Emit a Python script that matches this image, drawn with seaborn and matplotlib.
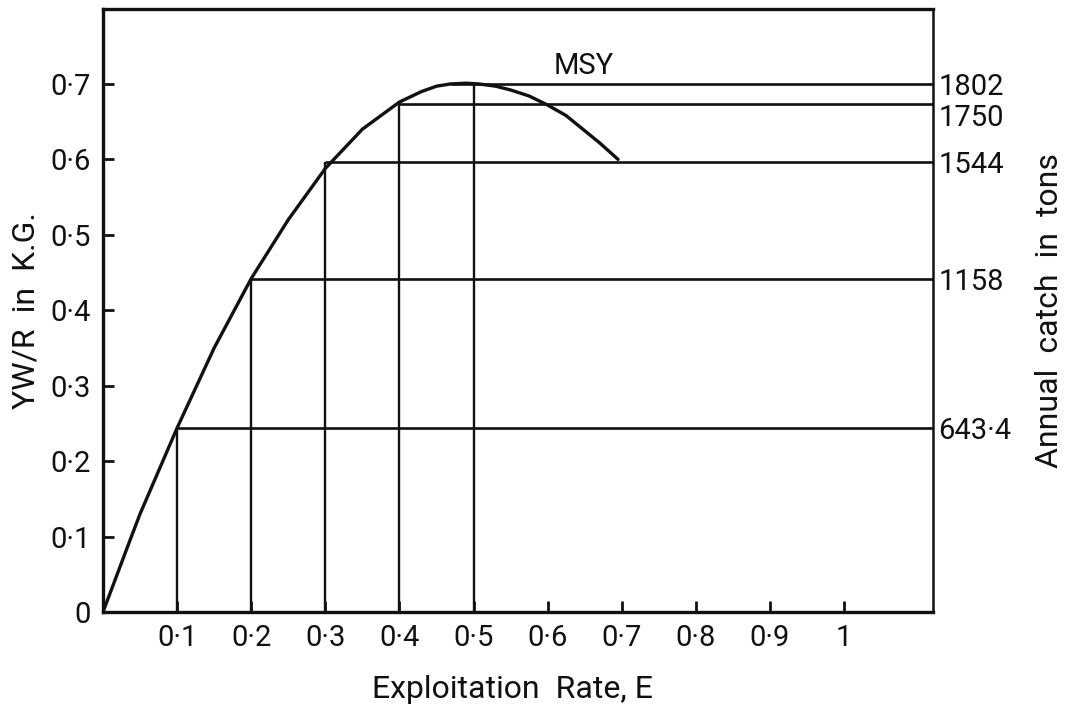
import matplotlib
matplotlib.use("Agg")
import matplotlib.pyplot as plt
import matplotlib.transforms as mtransforms
import seaborn as sns
import pandas as pd

# ---- data ----
exploitation_rate = [0.0, 0.036, 0.05, 0.1, 0.15, 0.2, 0.25, 0.3, 0.35, 0.4,
                     0.43, 0.45, 0.469, 0.49, 0.507, 0.53, 0.55, 0.575, 0.6,
                     0.625, 0.645, 0.67, 0.695]
yield_per_recruit = [0.0, 0.094, 0.13, 0.244, 0.35, 0.442, 0.52, 0.588, 0.64, 0.676,
                     0.690, 0.697, 0.70, 0.701, 0.70, 0.697, 0.692, 0.684, 0.672,
                     0.658, 0.642, 0.622, 0.60]

catch_E = [0.1, 0.2, 0.3, 0.4, 0.5]           # vertical reference lines
catch_Y = [0.244, 0.442, 0.596, 0.673, 0.70]  # corresponding YW/R levels
catch_line_start = [0.1, 0.2, 0.3, 0.4, 0.469]
catch_labels = ["643·4", "1158", "1544", "1750", "1802"]

x_ticks = [0.1, 0.2, 0.3, 0.4, 0.5, 0.6, 0.7, 0.8, 0.9, 1.0]
x_tick_labels = ["0·1", "0·2", "0·3", "0·4", "0·5", "0·6", "0·7", "0·8", "0·9", "1"]
y_ticks = [0.0, 0.1, 0.2, 0.3, 0.4, 0.5, 0.6, 0.7]
y_tick_labels = ["0", "0·1", "0·2", "0·3", "0·4", "0·5", "0·6", "0·7"]

sns.set_style("ticks")
plt.rcParams["font.family"] = ["Roboto", "DejaVu Sans"]
ink = "#111111"
fs_tick = 21
fs_lab = 23

fig = plt.figure(figsize=(10.69, 7.05), dpi=100)
ax = fig.add_axes([103 / 1069, (705 - 612) / 705, (933 - 103) / 1069, (612 - 8.5) / 705])

df = pd.DataFrame({"E": exploitation_rate, "Y": yield_per_recruit})
sns.lineplot(data=df, x="E", y="Y", ax=ax, color=ink, lw=2.4, sort=False)

x_max = 1.12
for e, y, s in zip(catch_E, catch_Y, catch_line_start):
    ax.plot([e, e], [0, y], color=ink, lw=1.7, solid_capstyle="butt")
    ax.plot([s, x_max], [y, y], color=ink, lw=1.9, solid_capstyle="butt")

ax.set_xlim(0, x_max)
ax.set_ylim(0, 0.8)
ax.set_xticks(x_ticks)
ax.set_xticklabels(x_tick_labels)
ax.set_yticks(y_ticks)
ax.set_yticklabels(y_tick_labels)
ax.tick_params(axis="both", direction="in", length=8, width=2, colors=ink,
               labelsize=fs_tick, pad=9)
for side in ["left", "bottom", "top"]:
    ax.spines[side].set_linewidth(2.4)
    ax.spines[side].set_color(ink)
ax.spines["right"].set_linewidth(1.8)
ax.spines["right"].set_color(ink)

ax.text(0.649, 0.724, "MSY", ha="center", va="center", fontsize=fs_tick, color=ink)

ax.set_xlabel("Exploitation  Rate, E", fontsize=fs_lab, color=ink)
ax.xaxis.set_label_coords(0.493, -0.105)
ax.set_ylabel("YW/R  in  K.G.", fontsize=fs_lab, color=ink)
ax.yaxis.set_label_coords(-0.075, 0.5)

ax2 = ax.twinx()
ax2.set_position(ax.get_position())
ax2.set_ylim(0, 0.8)
ax2.set_yticks(catch_Y)
ax2.set_yticklabels(catch_labels)
ax2.tick_params(axis="y", length=0, pad=4, labelsize=fs_tick, colors=ink)
for s in ax2.spines.values():
    s.set_visible(False)
# the 1750 label sits just below its line in the reference
shifts = {"1750": -7.5}
for lab in ax2.get_yticklabels():
    dy = shifts.get(lab.get_text(), 0)
    if dy:
        lab.set_transform(lab.get_transform() +
                          mtransforms.ScaledTranslation(0, dy / 72, fig.dpi_scale_trans))
ax2.set_ylabel("Annual  catch  in  tons", fontsize=fs_lab, color=ink)
ax2.yaxis.set_label_coords(1.123, 0.5)

fig.savefig("out.png", dpi=100, facecolor="white")
